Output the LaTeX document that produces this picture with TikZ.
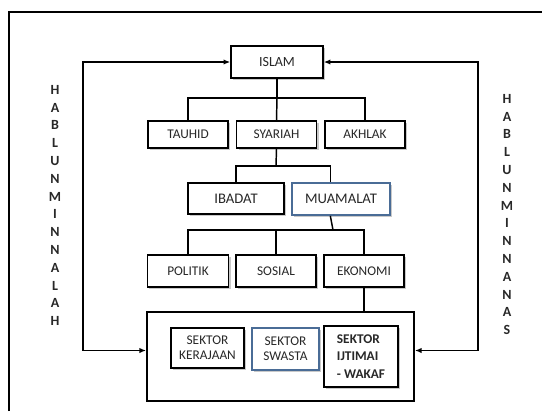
\documentclass[tikz,border=0pt]{standalone}
\usepackage{fontspec}
\setmainfont{Carlito}
\usetikzlibrary{arrows.meta,shadows}

\definecolor{boxblue}{RGB}{74,108,150}
\definecolor{txtgray}{RGB}{40,40,40}

\tikzset{every picture/.style={line width=0.75pt}}
\tikzset{
  box/.style={draw, line width=1.1pt, fill=white, inner sep=0pt,
    text=txtgray, font=\fontsize{10}{11.5}\selectfont, align=center,
    drop shadow={shadow xshift=1.5pt, shadow yshift=-1.5pt, fill=black!30, opacity=0.7}},
  bluebox/.style={box, draw=boxblue, line width=1.3pt},
  link/.style={line width=1.1pt},
  rail/.style={line width=1.1pt, {Latex[length=5pt,width=4pt]}-{Latex[length=5pt,width=4pt]}},
  sidetext/.style={font=\bfseries\fontsize{10.5}{13.35}\selectfont, text=txtgray, align=center, inner sep=0pt}
}

\begin{document}
\begin{tikzpicture}[x=0.75pt,y=0.75pt,yscale=-1,xscale=1]
\useasboundingbox (0,0) rectangle (542,411);

%Outer frame
\draw [line width=1.2pt] (9,411) -- (9,12) -- (542,12) ;

%Top level
\node [box, minimum width=69pt, minimum height=24pt, font=\fontsize{10.5}{12}\selectfont] (islam) at (277,62) {ISLAM};

%Second level
\node [box, minimum width=60pt, minimum height=20pt] (tauhid) at (188,134.5) {TAUHID};
\node [box, minimum width=60pt, minimum height=20pt] (syariah) at (276.5,134.5) {SYARIAH};
\node [box, minimum width=60pt, minimum height=20pt] (akhlak) at (365,134.5) {AKHLAK};

%Third level
\node [box, minimum width=72pt, minimum height=23pt, font=\fontsize{11}{12}\selectfont] (ibadat) at (236,198.5) {IBADAT};
\node [bluebox, minimum width=73pt, minimum height=24pt, font=\fontsize{11}{12}\selectfont] (muamalat) at (341,199) {MUAMALAT};

%Fourth level
\node [box, minimum width=61pt, minimum height=24pt] (politik) at (188,271) {POLITIK};
\node [box, minimum width=60pt, minimum height=24pt] (sosial) at (276,271) {SOSIAL};
\node [box, minimum width=60pt, minimum height=24pt] (ekonomi) at (364,271) {EKONOMI};

%Sector frame
\node [draw, line width=1.6pt, minimum width=200pt, minimum height=67pt, inner sep=0pt] (sektor) at (280.5,356.5) {};
\node [box, minimum width=55pt, minimum height=30pt] (kerajaan) at (207.5,348) {SEKTOR\\KERAJAAN};
\node [bluebox, minimum width=50pt, minimum height=31.5pt] (swasta) at (285.5,349) {SEKTOR\\SWASTA};
\node [box, line width=1.5pt, minimum width=55.5pt, minimum height=46pt, font=\bfseries\fontsize{10}{13}\selectfont, align=left] (ijtimai) at (361,356.5) {SEKTOR\\IJTIMAI\\- WAKAF};

%Tree connectors
\coordinate (j1) at (277,98);
\coordinate (j2) at (276,166);
\coordinate (j3) at (333,230);
\draw [link] (islam.south) -- (j1);
\draw [link] (tauhid.north) |- (j1) -| (akhlak.north);
\draw [link] (syariah.north) -- (j1);
\draw [link] (syariah.south) -- (j2);
\draw [link] (ibadat.north) |- (j2) -| ([xshift=-8]muamalat.north);
\draw [link] ([xshift=-8]muamalat.south) -- (j3);
\draw [link] (politik.north) |- (j3) -| (ekonomi.north);
\draw [link] (sosial.north) -- (sosial.north |- j3);
\draw [link] (ekonomi.south) -- (ekonomi.south |- sektor.north);

%Side rails
\coordinate (lrail) at (83,200);
\coordinate (rrail) at (478,200);
\draw [rail] (islam.west) -| (lrail) |- ([yshift=-4.5]sektor.west);
\draw [rail] (islam.east) -| (rrail) |- ([yshift=-4.5]sektor.east);

%Side labels
\node [sidetext] (hablah) at (55,205.5) {H\\A\\B\\L\\U\\N\\M\\I\\N\\N\\A\\L\\A\\H};
\node [sidetext] (habnas) at (507,214.5) {H\\A\\B\\L\\U\\N\\M\\I\\N\\N\\A\\N\\A\\S};

\end{tikzpicture}
\end{document}
